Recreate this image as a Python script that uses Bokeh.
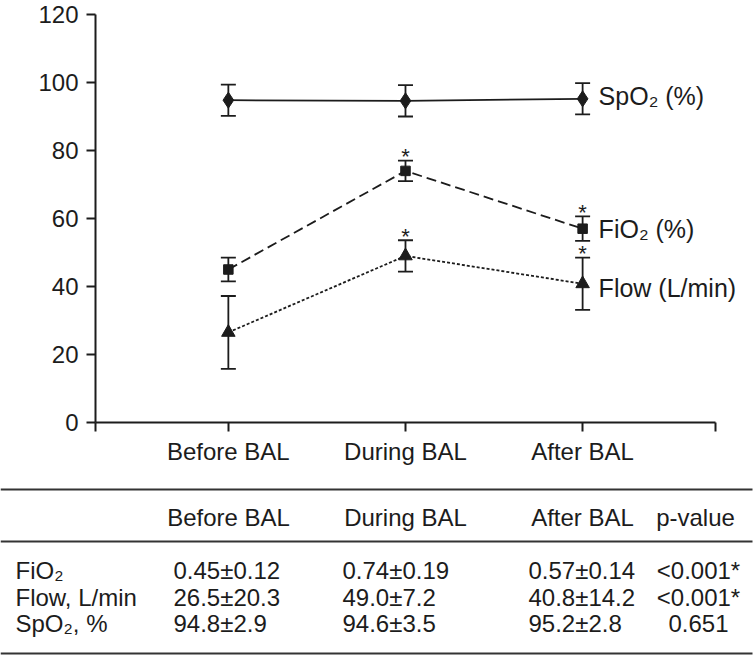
from bokeh.plotting import figure
from bokeh.models import Range1d, FixedTicker, Whisker, TeeHead, ColumnDataSource
from bokeh.layouts import column, row
from bokeh.embed import file_html
from bokeh.resources import INLINE
from bokeh.core.properties import value

# ---------------- data ----------------
categories = ["Before BAL", "During BAL", "After BAL"]
x_pos = [1, 2, 3]
spo2_mean = [94.8, 94.6, 95.2]
spo2_err = [4.6, 4.6, 4.6]
fio2_mean = [45.0, 74.0, 57.0]
fio2_err = [3.5, 3.0, 3.6]
flow_mean = [26.5, 49.0, 40.8]
flow_err = [10.7, 4.6, 7.7]
fio2_sig = [False, True, True]
flow_sig = [False, True, True]
series_labels = ["SpO\u2082 (%)", "FiO\u2082 (%)", "Flow (L/min)"]
y_ticks = [0, 20, 40, 60, 80, 100, 120]

table_header = ["Before BAL", "During BAL", "After BAL", "p-value"]
row_labels = ["FiO\u2082", "Flow, L/min", "SpO\u2082, %"]
before_vals = ["0.45\u00b10.12", "26.5\u00b120.3", "94.8\u00b12.9"]
during_vals = ["0.74\u00b10.19", "49.0\u00b17.2", "94.6\u00b13.5"]
after_vals = ["0.57\u00b10.14", "40.8\u00b114.2", "95.2\u00b12.8"]
p_values = ["<0.001*", "<0.001*", "0.651"]

FONT = value("Liberation Sans")
INK = "#1c1c1c"
FS = "24px"
W = 756

# ---------------- chart ----------------
x_lo, x_hi = 0.25, 3.75
CH = 480
p = figure(width=W, height=CH, x_range=Range1d(x_lo, x_hi + 41 / 177.0),
           y_range=Range1d(0, 120), output_backend="svg", toolbar_location=None,
           min_border_left=95, min_border_right=0, min_border_top=14,
           min_border_bottom=CH - 422)
p.outline_line_color = None
p.grid.visible = False

for ax in (p.xaxis[0], p.yaxis[0]):
    ax.axis_line_width = 2
    ax.axis_line_color = INK
    ax.major_tick_line_width = 2
    ax.major_tick_line_color = INK
    ax.major_tick_in = 0
    ax.minor_tick_line_color = None
    ax.major_label_text_font = "Liberation Sans"
    ax.major_label_text_font_size = FS
    ax.major_label_text_color = INK

xt = [x_lo] + x_pos + [x_hi]
p.xaxis.ticker = FixedTicker(ticks=xt)
ov = {x_lo: "", x_hi: ""}
for xv, c in zip(x_pos, categories):
    ov[xv] = c
p.xaxis.major_label_overrides = ov
p.xaxis.bounds = (x_lo, x_hi)
p.xaxis.major_tick_out = 9
p.xaxis.major_label_standoff = 6

p.yaxis.ticker = FixedTicker(ticks=y_ticks)
p.yaxis.bounds = (0, 120)
p.yaxis.major_tick_out = 9
p.yaxis.major_label_standoff = 8

# lines
p.line(x_pos, spo2_mean, line_color=INK, line_width=1.8)
p.line(x_pos, fio2_mean, line_color=INK, line_width=1.8, line_dash="10 5")
p.line(x_pos, flow_mean, line_color=INK, line_width=1.8, line_dash="3 2")

# error bars
for mean, err in ((spo2_mean, spo2_err), (fio2_mean, fio2_err), (flow_mean, flow_err)):
    src = ColumnDataSource(dict(x=x_pos,
                                upper=[m + e for m, e in zip(mean, err)],
                                lower=[m - e for m, e in zip(mean, err)]))
    w = Whisker(base="x", upper="upper", lower="lower", source=src,
                line_color=INK, line_width=1.8,
                upper_head=TeeHead(size=15, line_color=INK, line_width=1.8),
                lower_head=TeeHead(size=15, line_color=INK, line_width=1.8))
    p.add_layout(w)

# markers
p.scatter(x_pos, spo2_mean, marker="diamond", size=16, color=INK)
p.scatter(x_pos, fio2_mean, marker="square", size=9.5, color=INK)
p.scatter(x_pos, flow_mean, marker="triangle", size=13.5, color=INK)

# significance stars
sx, sy = [], []
for mean, err, sig in ((fio2_mean, fio2_err, fio2_sig), (flow_mean, flow_err, flow_sig)):
    for xv, m, e, s in zip(x_pos, mean, err, sig):
        if s:
            sx.append(xv)
            sy.append(m + e)
p.text(sx, sy, text=["*"] * len(sx), text_font=FONT, text_font_size="22px",
       text_color=INK, text_align="center", text_baseline="alphabetic", y_offset=-4)

# series labels
p.text([x_pos[-1]] * 3, [spo2_mean[-1], fio2_mean[-1], flow_mean[-1]], text=series_labels,
       text_font=FONT, text_font_size="25px", text_color=INK,
       text_align="left", text_baseline="middle", x_offset=16, y_offset=[-3, 0, 4])

# ---------------- table ----------------
TH = 656 - CH
t = figure(width=W, height=TH, x_range=Range1d(0, W), y_range=Range1d(TH, 0),
           output_backend="svg", toolbar_location=None,
           x_axis_location=None, y_axis_location=None,
           min_border_left=0, min_border_right=0, min_border_top=0, min_border_bottom=0)
t.outline_line_color = None
t.grid.visible = False

rule_y = [9, 61, TH - 3]
t.segment(x0=[0] * 3, y0=rule_y, x1=[W - 4] * 3, y1=rule_y, line_color="#333333", line_width=2)

header_center = [228, 405, 582, 695]
header_y = 37
t.text(header_center, [header_y] * 4, text=table_header, text_font=FONT, text_font_size=FS,
       text_color=INK, text_align="center", text_baseline="middle")

row_y = [90, 117, 143]
t.text([15] * 3, row_y, text=row_labels, text_font=FONT, text_font_size=FS,
       text_color=INK, text_align="left", text_baseline="middle")
col_left = [173, 342, 528]
for cx, vals in zip(col_left, (before_vals, during_vals, after_vals)):
    t.text([cx] * 3, row_y, text=vals, text_font=FONT, text_font_size=FS,
           text_color=INK, text_align="left", text_baseline="middle")
t.text([698] * 3, row_y, text=p_values, text_font=FONT, text_font_size=FS,
       text_color=INK, text_align="center", text_baseline="middle")

layout = column(p, row(t), spacing=0)
open("out.html", "w").write(file_html(layout, INLINE))
